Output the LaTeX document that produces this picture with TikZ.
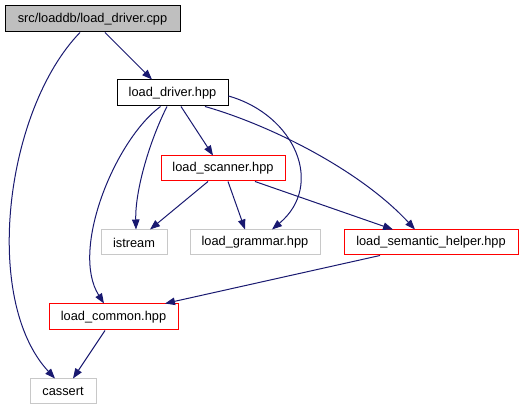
\documentclass[tikz,border=0pt]{standalone}
\usepackage{fontspec}
\setmainfont{Liberation Sans}
\usetikzlibrary{arrows.meta}
\definecolor{edgeblue}{HTML}{191970}
\definecolor{boxgray}{HTML}{BFBFBF}
\definecolor{extgray}{HTML}{C8C8C8}
\tikzset{
  box/.style={draw, line width=1pt, inner sep=0pt, font=\fontsize{12.8}{15}\selectfont, text=black},
  mainbox/.style={box, draw=black, fill=boxgray},
  plainbox/.style={box, draw=black, fill=white},
  redbox/.style={box, draw=red, fill=white},
  extbox/.style={box, draw=extgray, fill=white},
  edge/.style={draw=edgeblue, line width=1pt, -{Triangle[length=10pt,width=7.5pt,fill=edgeblue]}}
}
\begin{document}
\begin{tikzpicture}[x=1pt,y=-1pt]
\useasboundingbox (0,0) rectangle (523,411);
\node[mainbox, minimum width=175, minimum height=26] (cpp) at (92.5,19) {src/loaddb/load\_driver.cpp};
\node[plainbox, minimum width=111, minimum height=26] (drv) at (172.5,93) {load\_driver.hpp};
\node[redbox, minimum width=124, minimum height=25] (scn) at (223,168.5) {load\_scanner.hpp};
\node[extbox, minimum width=66, minimum height=25] (ist) at (134,242.5) {istream};
\node[extbox, minimum width=130, minimum height=25] (gra) at (255,242.5) {load\_grammar.hpp};
\node[redbox, minimum width=174, minimum height=25] (sem) at (431,242.5) {load\_semantic\_helper.hpp};
\node[redbox, minimum width=129, minimum height=26] (com) at (113.5,317) {load\_common.hpp};
\node[extbox, minimum width=66, minimum height=25] (cas) at (63,391.5) {cassert};

\path[edge] ([xshift=12.5]cpp.south) -- ([xshift=-20.5]drv.north);
\path[edge] ([xshift=-12.5]cpp.south) .. controls (5,110) and (-18,300) .. ([xshift=-8]cas.north);
\path[edge] ([xshift=8.5]drv.south) -- ([xshift=-10]scn.north);
\path[edge] ([xshift=-5.5]drv.south) .. controls (150,140) and (135,190) .. ([xshift=2]ist.north);
\path[edge] ([xshift=-12]drv.south) .. controls (115,140) and (70,250) .. ([xshift=-9.5]com.north);
\path[edge] ([yshift=-3]drv.east) .. controls (295,115) and (325,185) .. ([xshift=17]gra.north);
\path[edge] ([xshift=32.5]drv.south) .. controls (270,125) and (360,170) .. ([xshift=-16]sem.north);
\path[edge] ([xshift=-15]scn.south) -- ([xshift=16]ist.north);
\path[edge] ([xshift=5]scn.south) -- ([xshift=-10]gra.north);
\path[edge] ([xshift=32]scn.south) -- ([xshift=-38]sem.north);
\path[edge] ([xshift=-51]sem.south) -- ([xshift=51.5]com.north);
\path[edge] ([xshift=-8.5]com.south) -- ([xshift=10]cas.north);
\end{tikzpicture}
\end{document}
